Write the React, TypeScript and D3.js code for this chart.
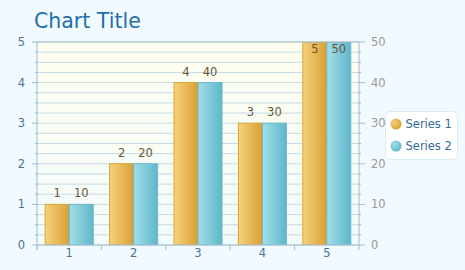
import React from "react";
import * as d3 from "d3";

const categories = ["1", "2", "3", "4", "5"];
const series1 = [1, 2, 4, 3, 5];
const series2 = [10, 20, 40, 30, 50];
const seriesNames = ["Series 1", "Series 2"];
const leftTicks = [0, 1, 2, 3, 4, 5];
const rightTicks = [0, 10, 20, 30, 40, 50];

const W = 465, H = 270;
const L = 37, R = 359, T = 42, B = 245;
const FONT = "DejaVu Sans, Verdana, sans-serif";

export default function App() {
  const x = d3.scaleBand<string>().domain(categories).range([L, R]);
  const yL = d3.scaleLinear().domain([0, 5]).range([B, T]);
  const yR = d3.scaleLinear().domain([0, 50]).range([B, T]);
  const gridVals = d3.range(0, 5.0001, 0.25);
  const bw = 24;
  const pad = (x.bandwidth() - 2 * bw) / 2;

  return (
    <svg width={W} height={H} style={{ position: "absolute", left: 0, top: 0 }}>
      <defs>
        <linearGradient id="plotbg" x1="0" y1="0" x2="0" y2="1">
          <stop offset="0" stopColor="#fffff0" />
          <stop offset="1" stopColor="#f2fbfb" />
        </linearGradient>
        <linearGradient id="g1" x1="0" y1="0" x2="1" y2="0">
          <stop offset="0" stopColor="#f5d27e" />
          <stop offset="1" stopColor="#d9a033" />
        </linearGradient>
        <linearGradient id="g2" x1="0" y1="0" x2="1" y2="0">
          <stop offset="0" stopColor="#a2dfe8" />
          <stop offset="1" stopColor="#5fb7cb" />
        </linearGradient>
        <radialGradient id="c1" cx="0.35" cy="0.35" r="0.7">
          <stop offset="0" stopColor="#f5d27e" />
          <stop offset="1" stopColor="#d9a033" />
        </radialGradient>
        <radialGradient id="c2" cx="0.35" cy="0.35" r="0.7">
          <stop offset="0" stopColor="#a2dfe8" />
          <stop offset="1" stopColor="#5fb7cb" />
        </radialGradient>
        <clipPath id="plotclip">
          <rect x={L} y={T} width={R - L} height={B - T} />
        </clipPath>
      </defs>
      <rect x={0} y={0} width={W} height={H} fill="#f0faff" />
      <text x={34} y={28} fontFamily={FONT} fontSize={20.5} fill="#1f6fa8">Chart Title</text>
      <rect x={L} y={T} width={R - L} height={B - T} fill="url(#plotbg)" />
      {gridVals.map((v, i) => (
        <line key={"g" + i} x1={L} x2={R} y1={yL(v)} y2={yL(v)} stroke="#c5dbe6" strokeWidth={1} />
      ))}
      {gridVals.map((v, i) => {
        const major = Math.abs(v - Math.round(v)) < 1e-6;
        return (
          <line key={"lt" + i} x1={major ? L - 5 : L - 2} x2={L + 1} y1={yL(v)} y2={yL(v)} stroke="#a0bccf" />
        );
      })}
      {gridVals.map((v, i) => {
        const major = Math.abs(v - Math.round(v)) < 1e-6;
        return (
          <line key={"rt" + i} x1={R - 1} x2={major ? R + 6 : R + 2} y1={yL(v)} y2={yL(v)} stroke="#a0bccf" />
        );
      })}
      <g clipPath="url(#plotclip)">
        {categories.map((c, i) => {
          const x0 = (x(c) as number) + pad;
          return (
            <g key={"b" + i}>
              <rect x={x0} y={yL(series1[i])} width={bw} height={B - yL(series1[i])} fill="url(#g1)" stroke="#dda52e" strokeWidth={1} />
              <rect x={x0 + bw} y={yR(series2[i])} width={bw} height={B - yR(series2[i])} fill="url(#g2)" stroke="#6cb6cc" strokeWidth={1} />
            </g>
          );
        })}
      </g>
      {categories.map((c, i) => {
        const x0 = (x(c) as number) + pad;
        const y1 = yL(series1[i]);
        const y2 = yR(series2[i]);
        const ly1 = y1 - 8 < T ? y1 + 11 : y1 - 7;
        const ly2 = y2 - 8 < T ? y2 + 11 : y2 - 7;
        return (
          <g key={"l" + i} fontFamily={FONT} fontSize={11.5} fill="#6b5635" textAnchor="middle">
            <text x={x0 + bw / 2} y={ly1}>{series1[i]}</text>
            <text x={x0 + bw * 1.5} y={ly2}>{series2[i]}</text>
          </g>
        );
      })}
      <line x1={L} x2={L} y1={T} y2={B + 5} stroke="#a0bccf" />
      <line x1={R} x2={R} y1={T} y2={B + 5} stroke="#a0bccf" />
      <line x1={L} x2={R} y1={B} y2={B} stroke="#a0bccf" />
      <line x1={L} x2={R} y1={T} y2={T} stroke="#a0bccf" />
      {categories.map((c, i) => (
        <line key={"xt" + i} x1={(x(c) as number)} x2={(x(c) as number)} y1={B} y2={B + 5} stroke="#a0bccf" />
      ))}
      {categories.map((c, i) => (
        <text key={"xl" + i} x={(x(c) as number) + x.bandwidth() / 2} y={B + 12} fontFamily={FONT} fontSize={11.5} fill="#4d7394" textAnchor="middle">{c}</text>
      ))}
      {leftTicks.map((v, i) => (
        <text key={"yl" + i} x={25} y={yL(v) + 4} fontFamily={FONT} fontSize={11.5} fill="#4d7394" textAnchor="end">{v}</text>
      ))}
      {rightTicks.map((v, i) => (
        <text key={"yr" + i} x={371} y={yR(v) + 4} fontFamily={FONT} fontSize={11.5} fill="#999999" textAnchor="start">{v}</text>
      ))}
      <rect x={385.5} y={111.5} width={72} height={48} rx={5} fill="#ffffff" stroke="#d6ecf5" />
      {seriesNames.map((s, i) => (
        <g key={"lg" + i}>
          <circle cx={396} cy={124 + i * 22} r={5.5} fill={i === 0 ? "url(#c1)" : "url(#c2)"} />
          <text x={405.5} y={128 + i * 22} fontFamily={FONT} fontSize={11.5} fill="#336b99">{s}</text>
        </g>
      ))}
    </svg>
  );
}
